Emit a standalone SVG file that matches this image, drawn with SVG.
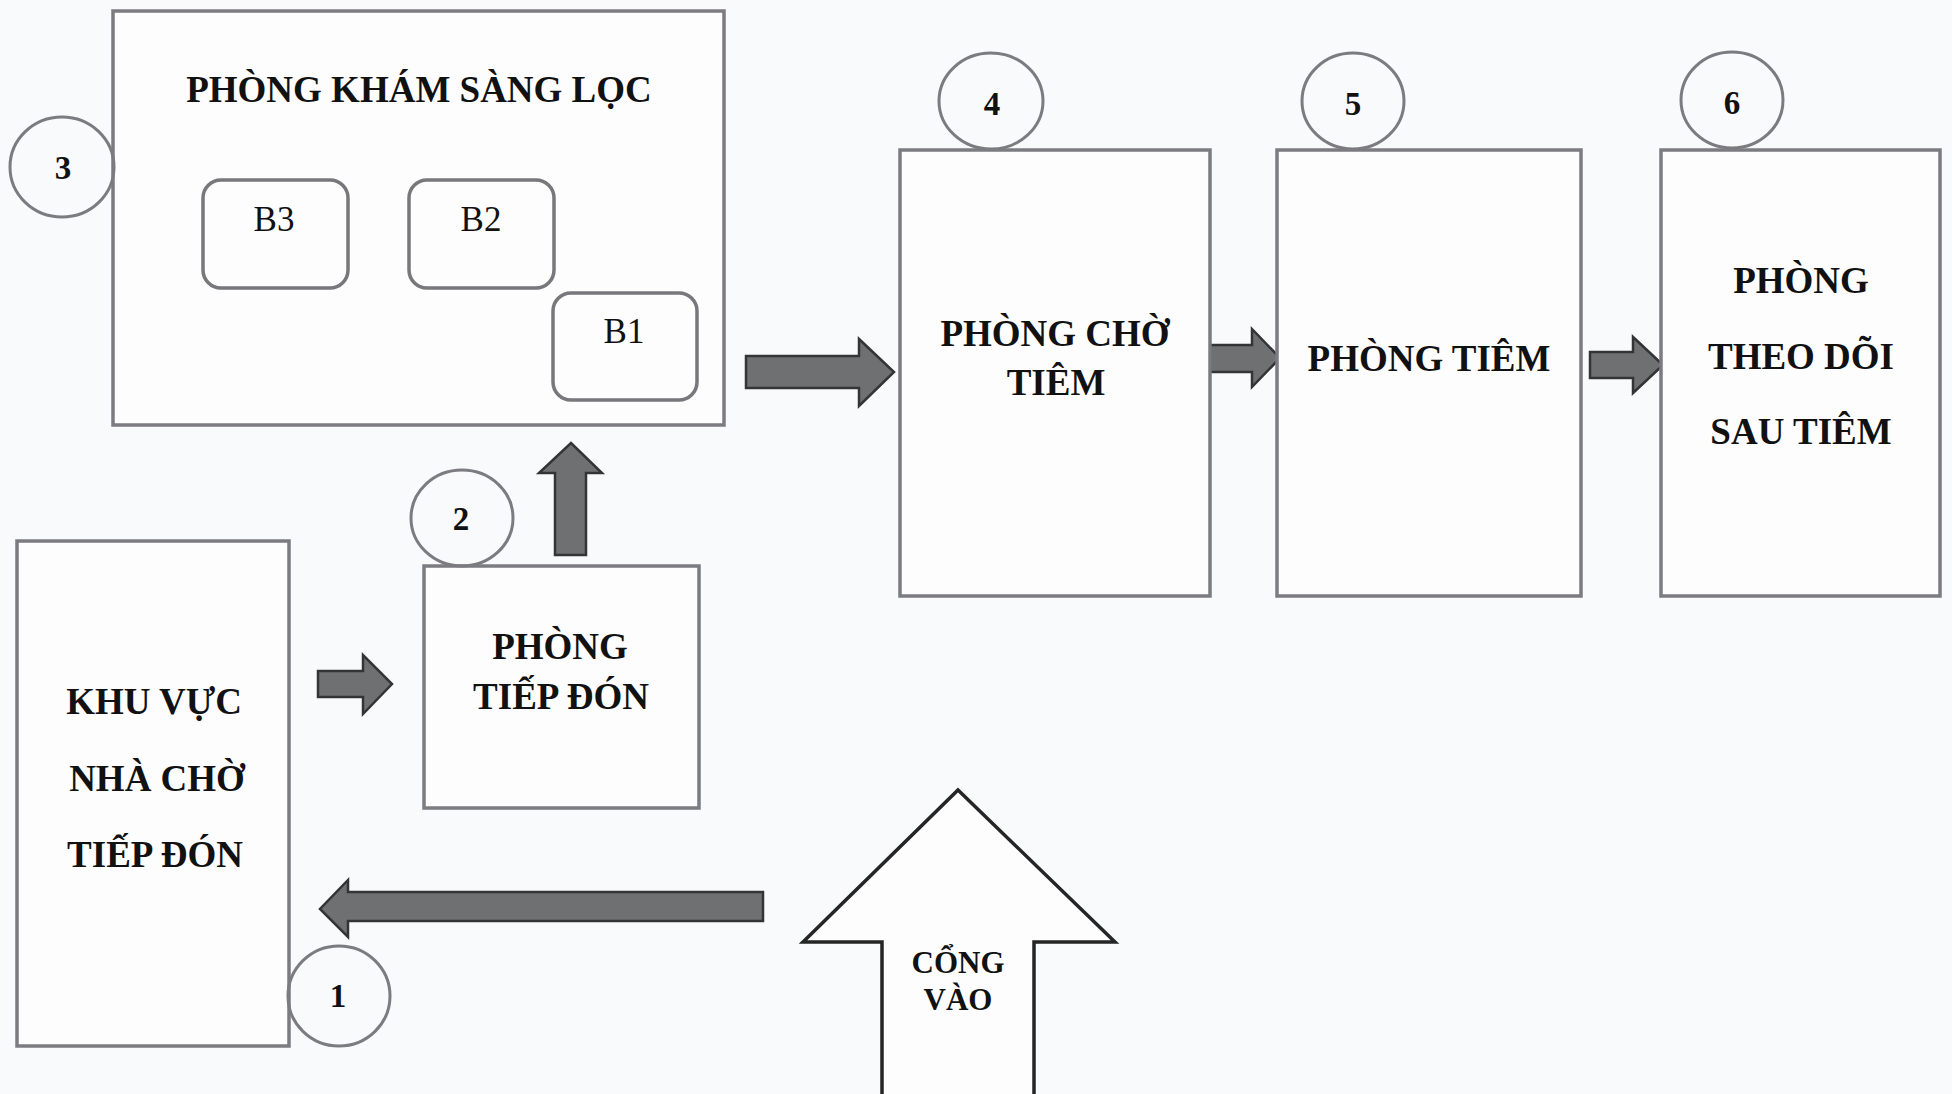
<svg xmlns="http://www.w3.org/2000/svg" width="1952" height="1094" viewBox="0 0 1952 1094">
<style>
.bg{fill:#f9fafc}
.box{fill:#fdfdfe;stroke:#7b7b80;stroke-width:3.5}
.sub{fill:#fdfdfe;stroke:#77777c;stroke-width:3.5}
.num{fill:none;stroke:#7b7b80;stroke-width:3}
.arr{fill:#6f7072;stroke:#343436;stroke-width:2.5;stroke-linejoin:miter}
.gate{fill:#fdfdfe;stroke:#252525;stroke-width:3.5;stroke-linejoin:miter}
text{font-family:'Liberation Serif','Times New Roman',serif;fill:#111;text-anchor:middle}
.t{font-weight:bold;font-size:37px}
.n{font-weight:bold;font-size:33px}
.b{font-size:35px}
.g{font-weight:bold;font-size:31px}
</style>
<rect class="bg" x="0" y="0" width="1952" height="1094"/>

<g id="connectors">
<polygon class="arr" points="746,356 859,356 859,339 894,372 859,406 859,388 746,388"/>
<polygon class="arr" points="1210,345 1252,345 1252,329 1280,358 1252,387 1252,372 1210,372"/>
<polygon class="arr" points="1590,352 1633,352 1633,337 1663,365 1633,393 1633,378 1590,378"/>
<polygon class="arr" points="318,671 363,671 363,655 392,684 363,714 363,697 318,697"/>
<polygon class="arr" points="555,555 555,473 539,473 571,443 602,473 586,473 586,555"/>
<polygon class="arr" points="763,892 348,892 348,880 320,909 348,937 348,921 763,921"/>
</g>

<g id="node-3">
<rect class="box" x="113" y="11" width="611" height="414"/>
<text class="t" x="419" y="102">PHÒNG KHÁM SÀNG LỌC</text>
<ellipse class="num" cx="62" cy="167" rx="52" ry="50"/>
<text class="n" x="63" y="179">3</text>
</g>
<g id="node-b3">
<rect class="sub" x="203" y="180" width="145" height="108" rx="18"/>
<text class="b" x="274" y="231">B3</text>
</g>
<g id="node-b2">
<rect class="sub" x="409" y="180" width="145" height="108" rx="18"/>
<text class="b" x="481" y="231">B2</text>
</g>
<g id="node-b1">
<rect class="sub" x="553" y="293" width="144" height="107" rx="18"/>
<text class="b" x="624" y="343">B1</text>
</g>

<g id="node-4">
<rect class="box" x="900" y="150" width="310" height="446"/>
<ellipse class="num" cx="991" cy="101" rx="52" ry="48"/>
<text class="n" x="992" y="115">4</text>
<text class="t" x="1055" y="346">PHÒNG CHỜ</text>
<text class="t" x="1056" y="395">TIÊM</text>
</g>

<g id="node-5">
<rect class="box" x="1277" y="150" width="304" height="446"/>
<ellipse class="num" cx="1353" cy="101" rx="51" ry="48"/>
<text class="n" x="1353" y="115">5</text>
<text class="t" x="1429" y="371">PHÒNG TIÊM</text>
</g>

<g id="node-6">
<rect class="box" x="1661" y="150" width="279" height="446"/>
<ellipse class="num" cx="1732" cy="100" rx="51" ry="48"/>
<text class="n" x="1732" y="114">6</text>
<text class="t" x="1801" y="293">PHÒNG</text>
<text class="t" x="1801" y="369">THEO DÕI</text>
<text class="t" x="1801" y="444">SAU TIÊM</text>
</g>

<g id="node-2">
<rect class="box" x="424" y="566" width="275" height="242"/>
<ellipse class="num" cx="462" cy="518" rx="51" ry="48"/>
<text class="n" x="461" y="530">2</text>
<text class="t" x="560" y="659">PHÒNG</text>
<text class="t" x="561" y="709">TIẾP ĐÓN</text>
</g>

<g id="node-1">
<rect class="box" x="17" y="541" width="272" height="505"/>
<ellipse class="num" cx="339" cy="996" rx="51" ry="50"/>
<text class="n" x="338" y="1007">1</text>
<text class="t" x="154" y="714">KHU VỰC</text>
<text class="t" x="157" y="791">NHÀ CHỜ</text>
<text class="t" x="155" y="867">TIẾP ĐÓN</text>
</g>

<g id="node-gate">
<polygon class="gate" points="958,790 1115,942 1034,942 1034,1100 882,1100 882,942 803,942"/>
<text class="g" x="958" y="973">CỔNG</text>
<text class="g" x="958" y="1010">VÀO</text>
</g>
</svg>
